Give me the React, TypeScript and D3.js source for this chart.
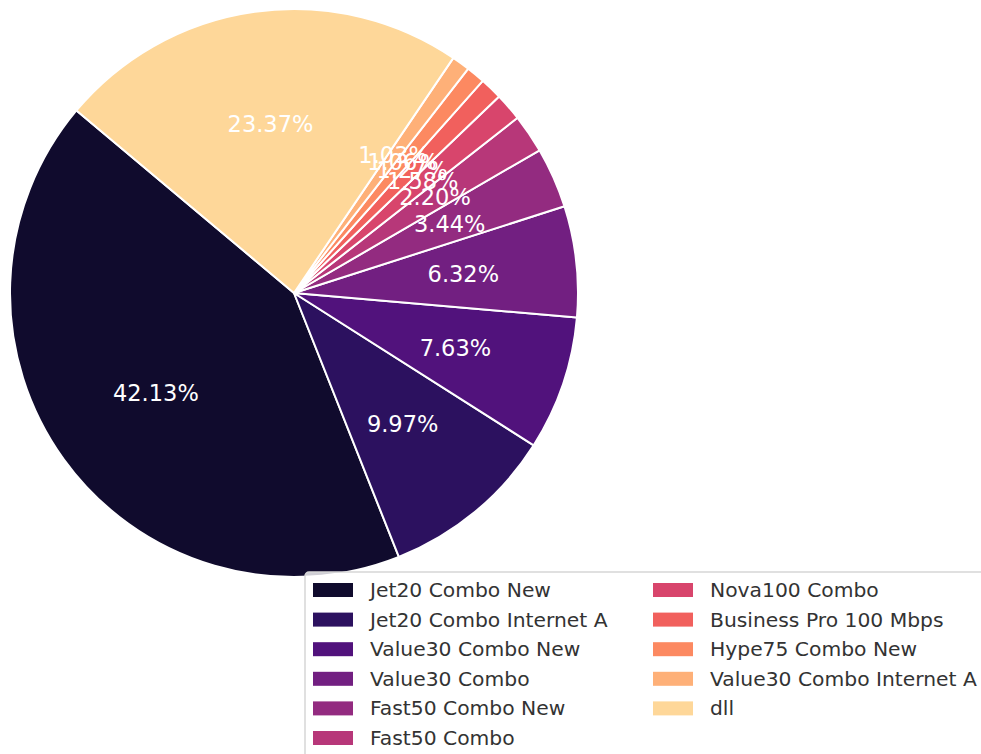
import React from "react";
import * as d3 from "d3";

const categories = [
  "Jet20 Combo New",
  "Jet20 Combo Internet A",
  "Value30 Combo New",
  "Value30 Combo",
  "Fast50 Combo New",
  "Fast50 Combo",
  "Nova100 Combo",
  "Business Pro 100 Mbps",
  "Hype75 Combo New",
  "Value30 Combo Internet A",
  "dll",
];
const shares = [42.13, 9.97, 7.63, 6.32, 3.44, 2.2, 1.58, 1.27, 1.06, 1.03, 23.37];

const W = 981;
const H = 754;
const cx = 294;
const cy = 293;
const R = 284;
const startDeg = 140; // matplotlib-style start angle, counterclockwise

export default function App() {
  const colors = categories.map((_, i) => d3.interpolateMagma((i + 1) / (categories.length + 1)));
  const toRad = (d: number) => (d * Math.PI) / 180;
  const s0 = toRad(90 - startDeg);
  const pie = d3
    .pie<number>()
    .sort(null)
    .value((d) => d)
    .startAngle(s0)
    .endAngle(s0 - 2 * Math.PI);
  const arcs = pie(shares);
  const arc = d3.arc<d3.PieArcDatum<number>>().innerRadius(0).outerRadius(R);
  const labelArc = d3.arc<d3.PieArcDatum<number>>().innerRadius(R * 0.6).outerRadius(R * 0.6);
  const total = d3.sum(shares);

  const legX = 305;
  const legY = 572;
  const rowH = 29.6;
  const firstRow = 590;
  const colX = [313, 653];
  const perCol = 6;

  return (
    <svg width={W} height={H} style={{ display: "block", position: "absolute", left: 0, top: 0 }} fontFamily="DejaVu Sans, sans-serif">
      <rect x={0} y={0} width={W} height={H} fill="#fff" />
      <g transform={`translate(${cx},${cy})`}>
        {arcs.map((a, i) => (
          <path key={i} d={arc(a) || ""} fill={colors[i]} stroke="#fff" strokeWidth={2} strokeLinejoin="round" />
        ))}
        {arcs.map((a, i) => {
          const [x, y] = labelArc.centroid(a);
          return (
            <text key={i} x={x} y={y} fill="#fff" fontSize={22.5} textAnchor="middle" dominantBaseline="central">
              {((shares[i] / total) * 100).toFixed(2)}%
            </text>
          );
        })}
      </g>
      <g>
        <rect x={legX} y={legY} width={700} height={200} rx={4} fill="#fff" fillOpacity={0.8} stroke="#d6d6d6" strokeWidth={1.5} />
        {categories.map((c, i) => {
          const col = Math.floor(i / perCol);
          const row = i % perCol;
          const y = firstRow + row * rowH;
          const hx = colX[col];
          return (
            <g key={c}>
              <rect x={hx} y={y - 7} width={40} height={14} fill={colors[i]} />
              <text x={hx + 57} y={y} fontSize={20.3} fill="#333" dominantBaseline="central">
                {c}
              </text>
            </g>
          );
        })}
      </g>
    </svg>
  );
}
